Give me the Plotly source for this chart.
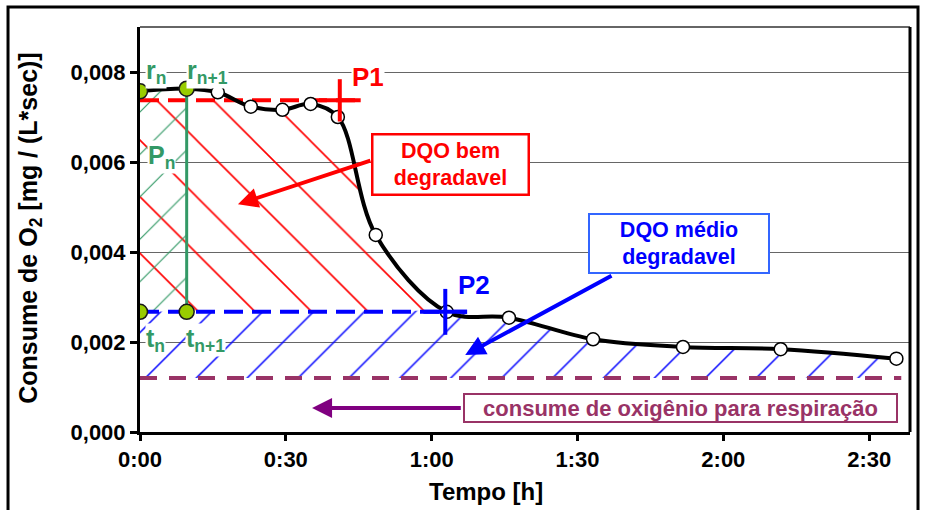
import plotly.graph_objects as go

# ---------------- data ----------------
time_min = [0, 9.6, 16.0, 22.8, 29.3, 35.1, 40.7, 48.5, 63.1, 75.9, 93.2, 111.7, 131.8, 155.6]
o2_rate = [0.00757, 0.00763, 0.00755, 0.00723, 0.00716, 0.00729, 0.00700,
           0.00438, 0.00267, 0.00254, 0.00206, 0.00189, 0.00184, 0.00163]

x_tick_vals = [0, 30, 60, 90, 120, 150]
x_tick_text = ["0:00", "0:30", "1:00", "1:30", "2:00", "2:30"]
y_tick_vals = [0, 0.002, 0.004, 0.006, 0.008]
y_tick_text = ["0,000", "0,002", "0,004", "0,006", "0,008"]

p1_level = 0.00737      # nível P1 (DQO bem degradavel)
p2_level = 0.00267      # nível P2 (DQO médio degradavel)
resp_level = 0.00120    # consumo para respiração
p1_time = 41.1
p2_time = 62.8
p1_line_end = 45.5
p2_line_end = 67.3
resp_line_end = 156.6
i_p2 = 8                # índice do ponto P2 na curva
i_rn, i_rn1 = 0, 1      # pontos r_n e r_n+1

# ---------------- styles ----------------
FONT = "Liberation Sans, Arial, sans-serif"
RED = "#FF0000"
BLUE = "#0000FF"
GREEN = "#339966"
PURPLE = "#993366"
LIME = "#99CC00"
X_MAX = 158.4
Y_MAX = 0.009
cross_dt = 4.3
cross_dy = 0.00047
cross2_dt = 4.5
cross2_dy = 0.00051

fig = go.Figure()


def hatch(xb, yb, xt, yt, shape, color, size, shape_line="linear"):
    fig.add_trace(go.Scatter(x=xb, y=yb, mode="lines", line=dict(width=0),
                             hoverinfo="skip", showlegend=False))
    fig.add_trace(go.Scatter(x=xt, y=yt, mode="lines",
                             line=dict(width=0, shape=shape_line, smoothing=1),
                             fill="tonexty", fillcolor="rgba(0,0,0,0)",
                             fillpattern=dict(shape=shape, fgcolor=color,
                                              bgcolor="rgba(0,0,0,0)", fgopacity=1,
                                              size=size, solidity=0.04,
                                              fillmode="overlay"),
                             hoverinfo="skip", showlegend=False))


# red hatch: between P2 level and min(curve, P1 level)
hatch([0, time_min[i_p2]], [p2_level, p2_level],
      time_min[:i_p2 + 1], [min(v, p1_level) for v in o2_rate[:i_p2 + 1]],
      "\\", RED, 40, "spline")
# green hatch: between r_n and r_n+1
hatch([time_min[i_rn], time_min[i_rn1]], [p2_level, p2_level],
      [time_min[i_rn], time_min[i_rn1]], [o2_rate[i_rn], o2_rate[i_rn1]],
      "/", GREEN, 30)
# blue hatch: between respiration level and min(curve, P2 level)
hatch([0, time_min[-1]], [resp_level, resp_level],
      [0] + time_min[i_p2:], [p2_level] + o2_rate[i_p2:],
      "/", BLUE, 36, "spline")

# dashed reference lines
for xs, lv, col, dash in [([0, p1_line_end], p1_level, RED, "19px,9px"),
                          ([0, p2_line_end], p2_level, BLUE, "19px,9px"),
                          ([0, resp_line_end], resp_level, PURPLE, "17px,12px")]:
    fig.add_trace(go.Scatter(x=xs, y=[lv, lv], mode="lines",
                             line=dict(color=col, width=4, dash=dash),
                             hoverinfo="skip", showlegend=False))

# green vertical line at r_n+1
fig.add_trace(go.Scatter(x=[time_min[i_rn1]] * 2, y=[o2_rate[i_rn1], p2_level],
                         mode="lines", line=dict(color=GREEN, width=3),
                         hoverinfo="skip", showlegend=False))

# main curve
fig.add_trace(go.Scatter(x=time_min, y=o2_rate, mode="lines",
                         line=dict(color="black", width=4, shape="spline", smoothing=1),
                         hoverinfo="skip", showlegend=False))
fig.add_trace(go.Scatter(x=time_min[2:], y=o2_rate[2:], mode="markers",
                         marker=dict(size=13, color="white",
                                     line=dict(color="black", width=1.5)),
                         hoverinfo="skip", showlegend=False))
fig.add_trace(go.Scatter(x=[time_min[i_rn], time_min[i_rn1], time_min[i_rn], time_min[i_rn1]],
                         y=[o2_rate[i_rn], o2_rate[i_rn1], p2_level, p2_level],
                         mode="markers",
                         marker=dict(size=15, color=LIME,
                                     line=dict(color="#1a1a1a", width=1.5)),
                         hoverinfo="skip", showlegend=False))

# crosses P1, P2
fig.add_trace(go.Scatter(x=[p1_time - cross_dt, p1_time + cross_dt, None, p1_time, p1_time],
                         y=[p1_level, p1_level, None, p1_level + cross_dy, p1_level - cross_dy],
                         mode="lines", line=dict(color=RED, width=4),
                         hoverinfo="skip", showlegend=False))
fig.add_trace(go.Scatter(x=[p2_time - cross2_dt, p2_time + cross2_dt, None, p2_time, p2_time],
                         y=[p2_level, p2_level, None, p2_level + cross2_dy, p2_level - cross2_dy],
                         mode="lines", line=dict(color=BLUE, width=4),
                         hoverinfo="skip", showlegend=False))

ann = []


def label(x, y, text, color, size, bg="rgba(0,0,0,0)", **kw):
    d = dict(x=x, y=y, xref="x", yref="y", text=text, showarrow=False,
             xanchor="center", yanchor="middle",
             font=dict(family=FONT, size=size, color=color), bgcolor=bg,
             borderpad=0)
    d.update(kw)
    ann.append(d)


def arrow(x, y, ax, ay, color):
    ann.append(dict(x=x, y=y, ax=ax, ay=ay, xref="x", yref="y", axref="x", ayref="y",
                    text="", showarrow=True, arrowhead=2, arrowsize=1,
                    arrowwidth=4, arrowcolor=color, standoff=0, startstandoff=0))


label(46.9, 0.00789, "<b>P1</b>", RED, 26, "white")
label(68.7, 0.00327, "<b>P2</b>", BLUE, 26)
label(3.3, 0.00800, "<b>r<sub>n</sub></b>", GREEN, 25, "white")
label(13.8, 0.00800, "<b>r<sub>n+1</sub></b>", GREEN, 25, "white")
label(4.5, 0.00611, "<b>P<sub>n</sub></b>", GREEN, 25, "white")
label(3.1, 0.00204, "<b>t<sub>n</sub></b>", GREEN, 25, "white")
label(13.4, 0.00204, "<b>t<sub>n+1</sub></b>", GREEN, 25, "white")

label(63.95, 0.00594, "<b>DQO bem<br>degradavel</b>", RED, 21.5, "white",
      bordercolor=RED, borderwidth=2.5, width=152, height=56, borderpad=1)
arrow(20.15, 0.00506, 47.7, 0.00604, RED)

label(110.9, 0.00420, "<b>DQO médio<br>degradavel</b>", BLUE, 21.5, "white",
      bordercolor="#3366FF", borderwidth=2, width=176, height=55, borderpad=1)
arrow(66.9, 0.00171, 97.3, 0.00349, BLUE)

label(111.2, 0.000533, "<b>consume de oxigênio para respiração</b>", PURPLE, 22, "white",
      bordercolor=PURPLE, borderwidth=2, width=431, height=26, borderpad=0)
arrow(35.4, 0.000533, 66.3, 0.000533, "#800080")

# axis titles
ann.append(dict(x=0.449, y=-0.148, xref="paper", yref="paper", showarrow=False,
                xanchor="center", yanchor="middle",
                text="<b>Tempo [h]</b>", font=dict(family=FONT, size=24, color="black")))
ann.append(dict(x=-0.143, y=0.504, xref="paper", yref="paper", showarrow=False,
                xanchor="center", yanchor="middle",
                textangle=-90, text="<b>Consume de O<sub>2</sub> [mg / (L*sec)]</b>",
                font=dict(family=FONT, size=25, color="black")))

shapes = [
    dict(type="rect", xref="paper", yref="paper", x0=-0.1714, x1=1.0104, y0=-0.3, y1=1.0494,
         line=dict(color="black", width=3), layer="above"),
    dict(type="line", xref="paper", yref="paper", x0=0, x1=1, y0=1, y1=1,
         line=dict(color="#333333", width=1.5), layer="above"),
    dict(type="line", xref="paper", yref="paper", x0=1, x1=1, y0=0, y1=1,
         line=dict(color="black", width=3), layer="above"),
]

fig.update_layout(
    width=925, height=510,
    margin=dict(l=140, r=15, t=27, b=78),
    paper_bgcolor="white", plot_bgcolor="white",
    showlegend=False, hovermode=False,
    font=dict(family=FONT, color="black"),
    annotations=ann, shapes=shapes,
    xaxis=dict(range=[0, X_MAX], tickvals=x_tick_vals, ticktext=x_tick_text,
               showgrid=False, zeroline=False, showline=True, linecolor="black",
               linewidth=3, ticks="outside", ticklen=6, tickwidth=3, tickcolor="black",
               tickfont=dict(family=FONT, size=22, color="black", weight="bold")),
    yaxis=dict(range=[0, Y_MAX], tickvals=y_tick_vals, ticktext=y_tick_text,
               showgrid=True, gridcolor="#666666", gridwidth=1, zeroline=False,
               showline=True, linecolor="black", linewidth=3, ticks="outside",
               ticklen=7, tickwidth=3, tickcolor="black",
               tickfont=dict(family=FONT, size=22, color="black", weight="bold")),
)

fig.write_html("out.html")
